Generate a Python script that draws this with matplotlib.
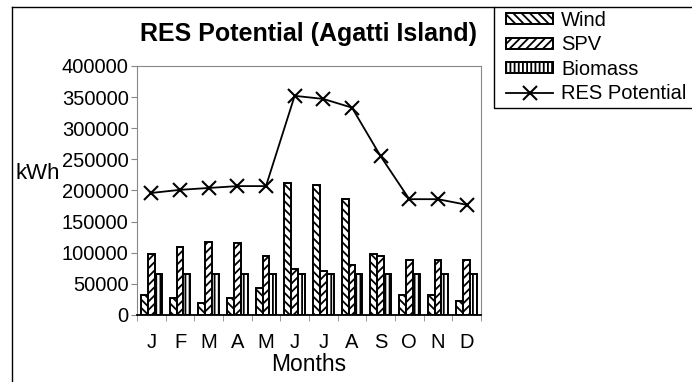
import matplotlib
matplotlib.use('Agg')
import matplotlib.pyplot as plt
import numpy as np
from matplotlib.lines import Line2D
from matplotlib.patches import Rectangle

plt.rcParams['font.family'] = ['Liberation Sans', 'DejaVu Sans']
plt.rcParams['hatch.linewidth'] = 1.3

months = ['J', 'F', 'M', 'A', 'M', 'J', 'J', 'A', 'S', 'O', 'N', 'D']
wind = [32000, 27000, 19000, 27000, 44000, 212000, 209000, 186000, 98000, 32000, 32000, 23000]
spv = [98000, 109000, 118000, 115000, 95000, 74000, 71000, 81000, 95000, 88000, 88000, 88000]
biomass = [66000] * 12
res_potential = [196000, 201000, 204000, 207000, 207000, 352000, 347000, 333000, 255000, 186000, 186000, 177000]

fig = plt.figure(figsize=(6.92, 3.82), dpi=100)
ax = fig.add_axes([0.198, 0.1754, 0.497, 0.652])

x = np.arange(len(months))
w = 0.24
bar_kw = dict(width=w, edgecolor='black', linewidth=1.4, color='white')
ax.bar(x - w, wind, hatch='\\\\\\\\', label='Wind', **bar_kw)
ax.bar(x, spv, hatch='////', label='SPV', **bar_kw)
ax.bar(x + w, biomass, hatch='||||', label='Biomass', **bar_kw)
ax.plot(x, res_potential, color='black', lw=1.3, marker='x', markersize=10,
        markeredgewidth=1.5, label='RES Potential')

ax.set_xlim(-0.5, len(months) - 0.5)
ax.set_ylim(0, 400000)
ax.set_yticks(np.arange(0, 400001, 50000))
ax.set_xticks(x)
ax.set_xticklabels(months, fontsize=14.5)
ax.set_xticks(np.arange(-0.5, len(months), 1), minor=True)
ax.tick_params(axis='x', which='major', length=0, pad=13)
ax.tick_params(axis='x', which='minor', length=4, color='#888888')
ax.tick_params(axis='y', labelsize=14.5, length=4, color='#888888', pad=2)

for side in ['top', 'right', 'left']:
    ax.spines[side].set_color('#888888')
ax.spines['bottom'].set_color('black')
ax.spines['bottom'].set_linewidth(1.3)

ax.set_title('RES Potential (Agatti Island)', fontsize=18, fontweight='bold', pad=18)
ax.set_xlabel('Months', fontsize=16.5, labelpad=1)
fig.text(0.022, 0.545, 'kWh', fontsize=16, va='center', ha='left')

# outer chart frame
fig.add_artist(Line2D([0.0173, 0.0173], [0.0, 0.982], color='black', lw=1.0))
fig.add_artist(Line2D([0.0173, 0.714], [0.982, 0.982], color='black', lw=1.0))
# legend box, running off the right edge
fig.add_artist(Rectangle((0.714, 0.717), 0.3, 0.265, transform=fig.transFigure,
                         fill=False, edgecolor='black', lw=1.0))

handles, labels = ax.get_legend_handles_labels()
order = [1, 2, 3, 0]
fig.legend([handles[i] for i in order], [labels[i] for i in order],
           loc='upper left', bbox_to_anchor=(0.7254, 0.982),
           fontsize=14.5, frameon=False,
           handlelength=2.35, handleheight=0.45, labelspacing=0.27,
           borderpad=0.2, handletextpad=0.4, borderaxespad=0.0)

fig.savefig('out.png', dpi=100)
